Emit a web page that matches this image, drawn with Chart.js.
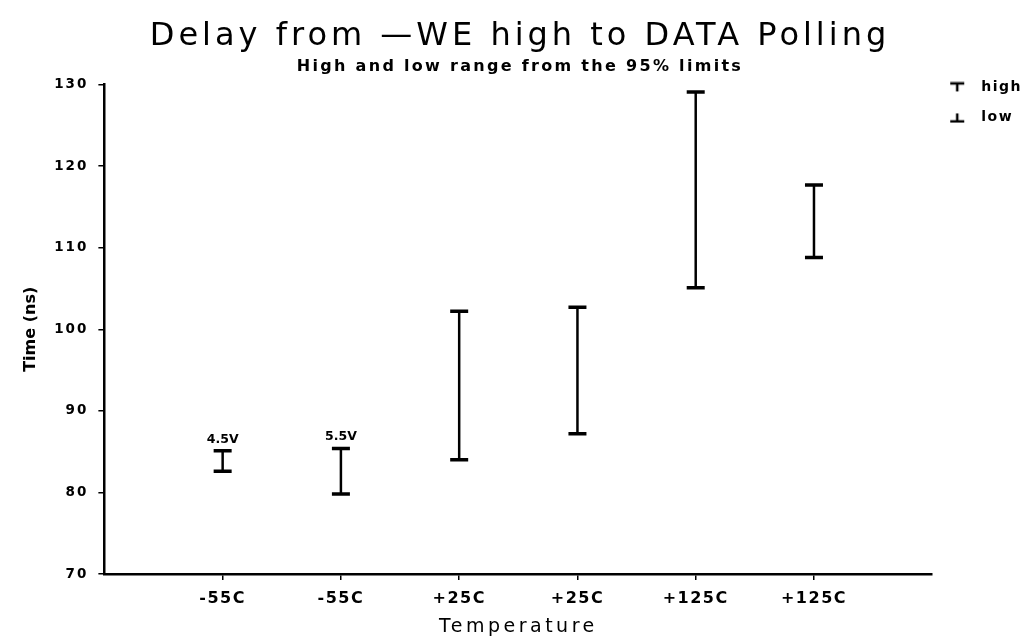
<!DOCTYPE html>
<html lang="en">
<head>
<meta charset="UTF-8">
<title>Delay from -WE high to DATA Polling</title>
<script src="https://cdn.jsdelivr.net/npm/chart.js"></script>
<style>
    html, body { margin: 0; padding: 0; background: #fff; }
    #wrap { width: 1028px; height: 644px; }
</style>
</head>
<body>
<div id="wrap"><canvas id="chart"></canvas></div>
<script>
    // values (ns)
    const temps = ['-55C', '-55C', '+25C', '+25C', '+125C', '+125C'];
    const xPos = [1, 2, 3, 4, 5, 6];
    const highs = [85.1, 85.4, 102.2, 102.7, 129.1, 117.7];
    const lows = [82.6, 79.8, 84.0, 87.2, 105.1, 108.8];
    const voltNotes = ['4.5V', '5.5V', '', '', '', ''];

    const titleText = 'Delay from —WE high to DATA Polling';
    const subtitleText = 'High and low range from the 95% limits';
    const FONT = '"DejaVu Sans", sans-serif';

    // small T / inverted T icons for the legend (drawn left of centre on purpose)
    function makeIcon(top) {
        const c = document.createElement('canvas');
        c.width = 26; c.height = 12;
        const g = c.getContext('2d');
        g.strokeStyle = '#000';
        g.lineWidth = 2.5;
        g.beginPath();
        const yCap = top ? 2 : 10;
        g.moveTo(2, yCap); g.lineTo(16, yCap);
        g.moveTo(9, 2); g.lineTo(9, 10);
        g.stroke();
        return c;
    }
    const icons = { high: makeIcon(true), low: makeIcon(false) };

    // stems: low -> high for each point, broken by nulls
    const stems = xPos.flatMap((x, i) => [{x: x, y: lows[i]}, {x: x, y: highs[i]}, {x: x, y: null}]);

    // the old plotter font is widely spaced, so stretch some texts a bit
    function spaced(obj, name, px) {
        if (!obj || !obj[name] || obj[name]._spaced) return;
        const orig = obj[name];
        obj[name] = function (...args) {
            const prev = this.ctx.letterSpacing;
            this.ctx.letterSpacing = px + 'px';
            const r = orig.apply(this, args);
            this.ctx.letterSpacing = prev;
            return r;
        };
        obj[name]._spaced = true;
    }

    const spacingPlugin = {
        id: 'spacing',
        afterUpdate(chart) {
            chart.boxes.forEach(b => {
                if (b === chart.titleBlock) spaced(b, 'draw', 4);
                else if (b.options && b.options.text === subtitleText) spaced(b, 'draw', 2.3);
            });
            spaced(chart.legend, 'draw', 1.5);
            spaced(chart.scales.x, 'drawLabels', 1.5);
            spaced(chart.scales.x, 'drawTitle', 3.5);
            spaced(chart.scales.y, 'drawLabels', 2);
        }
    };

    const notesPlugin = {
        id: 'notes',
        afterDatasetsDraw(chart) {
            const {ctx, scales: {x, y}} = chart;
            ctx.save();
            ctx.font = 'bold 12.5px ' + FONT;
            ctx.fillStyle = '#000';
            ctx.textAlign = 'center';
            ctx.textBaseline = 'bottom';
            voltNotes.forEach((t, i) => {
                if (t) ctx.fillText(t, x.getPixelForValue(xPos[i]), y.getPixelForValue(highs[i]) - 5);
            });
            ctx.restore();
        }
    };

    new Chart(document.getElementById('chart'), {
        data: {
            datasets: [
                {
                    type: 'line', label: 'stem', data: stems,
                    borderColor: '#000', borderWidth: 2.5, pointRadius: 0, spanGaps: false
                },
                {
                    type: 'scatter', label: 'high', data: xPos.map((x, i) => ({x: x, y: highs[i]})),
                    pointStyle: 'line', pointRadius: 9, borderColor: '#000', borderWidth: 3.5, backgroundColor: '#000'
                },
                {
                    type: 'scatter', label: 'low', data: xPos.map((x, i) => ({x: x, y: lows[i]})),
                    pointStyle: 'line', pointRadius: 9, borderColor: '#000', borderWidth: 3.5, backgroundColor: '#000'
                }
            ]
        },
        options: {
            responsive: true,
            maintainAspectRatio: false,
            animation: false,
            layout: { padding: { left: 14, right: 2, top: 0, bottom: 4 } },
            plugins: {
                tooltip: { enabled: false },
                title: {
                    display: true,
                    text: titleText,
                    color: '#000',
                    font: { family: FONT, size: 32, weight: 'normal' },
                    padding: { top: 17, bottom: 2 }
                },
                subtitle: {
                    display: true,
                    text: subtitleText,
                    color: '#000',
                    font: { family: FONT, size: 16, weight: 'bold' },
                    padding: { top: 0, bottom: 8 }
                },
                legend: {
                    position: 'right',
                    align: 'start',
                    title: { display: true, text: '', font: { size: 12 }, padding: { top: 50, bottom: 0 } },
                    labels: {
                        usePointStyle: true,
                        pointStyleWidth: 26,
                        color: '#000',
                        font: { family: FONT, size: 14, weight: 'bold' },
                        padding: 16,
                        filter: item => item.text !== 'stem',
                        generateLabels(chart) {
                            return Chart.defaults.plugins.legend.labels.generateLabels(chart)
                                .map(l => Object.assign(l, { pointStyle: icons[l.text] || l.pointStyle }));
                        }
                    }
                }
            },
            scales: {
                x: {
                    type: 'linear',
                    min: 0,
                    max: 7,
                    afterBuildTicks: s => { s.ticks = xPos.map(v => ({ value: v })); },
                    ticks: {
                        autoSkip: false,
                        maxRotation: 0,
                        color: '#000',
                        padding: 9,
                        font: { family: FONT, size: 16, weight: 'bold' },
                        callback: v => temps[xPos.indexOf(v)] || ''
                    },
                    grid: { drawOnChartArea: false, drawTicks: true, tickLength: 6, color: '#000', lineWidth: 1.5 },
                    border: { color: '#000', width: 2.5 },
                    title: { display: true, text: 'Temperature', color: '#000', font: { family: FONT, size: 19 }, padding: { top: -2, bottom: 2 } }
                },
                y: {
                    min: 70,
                    max: 130,
                    ticks: {
                        stepSize: 10,
                        color: '#000',
                        padding: 10,
                        font: { family: FONT, size: 13.5, weight: 'bold' }
                    },
                    grid: { drawOnChartArea: false, drawTicks: true, tickLength: 6, color: '#000', lineWidth: 1.5 },
                    border: { color: '#000', width: 2.5 },
                    title: { display: true, text: 'Time (ns)', color: '#000', font: { family: FONT, size: 16, weight: 'bold' }, padding: { top: 7, bottom: 10 } }
                }
            }
        },
        plugins: [spacingPlugin, notesPlugin]
    });
</script>
</body>
</html>
